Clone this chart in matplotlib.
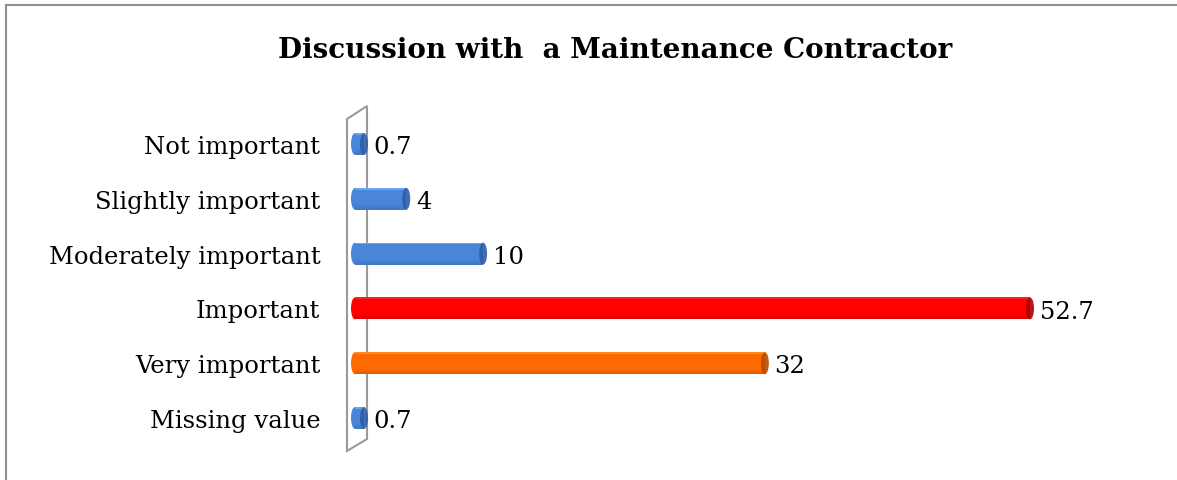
import matplotlib.pyplot as plt
import matplotlib.colors as mcolors
import numpy as np
from matplotlib.patches import Ellipse, Polygon
from matplotlib.lines import Line2D

categories = ['Missing value', 'Very important', 'Important',
              'Moderately important', 'Slightly important', 'Not important']
values = [0.7, 32, 52.7, 10, 4, 0.7]
labels = ['0.7', '32', '52.7', '10', '4', '0.7']
colors = ['#4a86d8', '#ff6a00', '#ff0000', '#4a86d8', '#4a86d8', '#4a86d8']
dark = ['#2d5ea8', '#b84a00', '#b00000', '#2d5ea8', '#2d5ea8', '#2d5ea8']

W, H = 1177, 481
fig = plt.figure(figsize=(W / 100, H / 100), dpi=100)

# axes placed in pixel terms
left, right, top, bottom = 355, 1100, 117.6, 446.4
ax = fig.add_axes([left / W, 1 - bottom / H, (right - left) / W, (bottom - top) / H])
ax.patch.set_visible(False)
pxu = (1030 - 355) / 52.7
xmax = (right - left) / pxu
ax.set_xlim(0, xmax)
ax.set_ylim(-0.5, len(categories) - 0.5)

bh = 0.4
y = np.arange(len(categories))
# cylinder-ish shading: stack thin slices from top (light) to bottom (dark)
n = 12
for i in range(n):
    t = i / (n - 1)
    frac_top = 0.5 - i * (1.0 / n)
    for k in range(len(values)):
        c0 = np.array(mcolors.to_rgb(colors[k]))
        c1 = np.array(mcolors.to_rgb(dark[k]))
        w = max(min(1, 0.55 + 1 - abs(t - 0.35) * 1.4), 0)
        col = c0 * w + c1 * (1 - w)
        if i == 0:
            col = np.minimum(c0 + 0.12, 1)
        ax.barh(y[k] + bh * (frac_top - 0.5 / n), values[k], height=bh / n,
                color=col, edgecolor='none', zorder=3)

capw = 8 / pxu
for k in range(len(values)):
    ax.add_patch(Ellipse((values[k], y[k]), capw, bh, facecolor=dark[k],
                         edgecolor='none', zorder=4, alpha=0.9))
    ax.add_patch(Ellipse((0, y[k]), capw, bh, facecolor=colors[k],
                         edgecolor='none', zorder=2, clip_on=False))
    ax.text(values[k] + 0.75, y[k] - 0.05, labels[k], va='center', ha='left',
            fontsize=17.5, family='DejaVu Serif', color='black')

ax.set_yticks(y)
ax.set_yticklabels(categories, fontsize=17.5, family='DejaVu Serif')
ax.tick_params(axis='y', length=0, pad=25)
ax.set_xticks([])
for s in ax.spines.values():
    s.set_visible(False)

# 3D side wall drawn in figure pixels, behind the bars
wall = [(347, 120), (367, 107), (367, 440), (347, 452)]
ax.add_patch(Polygon([(px / W, 1 - py / H) for px, py in wall],
                     closed=True, transform=fig.transFigure,
                     facecolor='none', edgecolor='#999999', lw=1.5,
                     zorder=1, clip_on=False))

fig.text(615 / W, 1 - 50 / H, 'Discussion with  a Maintenance Contractor',
         ha='center', va='center', fontsize=20, fontweight='bold',
         family='DejaVu Serif')

# chart border (only left and top are inside the picture)
fig.lines.append(Line2D([6 / W, 6 / W], [0, 1 - 6 / H], transform=fig.transFigure,
                        color='#909090', lw=1.5))
fig.lines.append(Line2D([6 / W, 1], [1 - 6 / H, 1 - 6 / H], transform=fig.transFigure,
                        color='#909090', lw=1.5))

fig.savefig('out.png', dpi=100)
